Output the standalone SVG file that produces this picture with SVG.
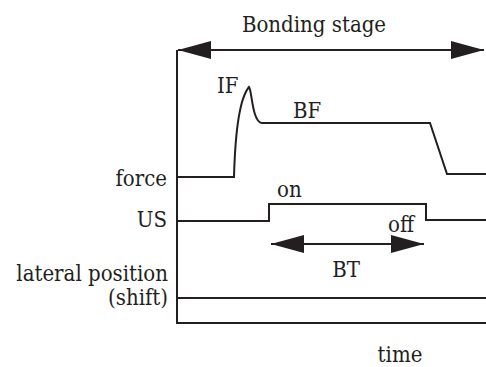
<svg xmlns="http://www.w3.org/2000/svg" width="486" height="367" viewBox="0 0 486 367">
<style>
.t{font-family:"DejaVu Serif Condensed","DejaVu Serif",serif;font-stretch:condensed;font-size:22px;fill:#231f20}
.r{text-anchor:end}
.m{text-anchor:middle}
.ln{fill:none;stroke:#231f20;stroke-width:2;stroke-linejoin:miter}
</style>
<defs>
<marker id="ah" markerUnits="userSpaceOnUse" markerWidth="34" markerHeight="20" viewBox="0 0 34 20" refX="33" refY="10" orient="auto-start-reverse">
<path d="M0,1 L33,10 L0,19 Z" fill="#231f20"/>
</marker>
</defs>
<rect width="486" height="367" fill="#fff"/>
<g id="axes">
<path class="ln" d="M177,50 V323 H486"/>
</g>
<g id="connectors">
<line class="ln" x1="178" y1="50" x2="484" y2="50" marker-start="url(#ah)" marker-end="url(#ah)"/>
<line class="ln" x1="271" y1="244" x2="424" y2="244" marker-start="url(#ah)" marker-end="url(#ah)"/>
</g>
<g id="force-trace">
<path class="ln" d="M177,177 H234 C235,140 238,100 249,87 C252,90 252,122 262,123 H430 L447,174 H486"/>
</g>
<g id="us-trace">
<path class="ln" d="M177,221 H269 V204 H426 V220 H486"/>
</g>
<g id="shift-trace">
<path class="ln" d="M177,298 H486"/>
</g>
<g id="labels">
<text class="t m" x="314" y="32">Bonding stage</text>
<text class="t" x="217" y="93">IF</text>
<text class="t" x="293" y="118">BF</text>
<text class="t r" x="167" y="186">force</text>
<text class="t" x="277" y="197">on</text>
<text class="t r" x="167" y="227">US</text>
<text class="t" x="388" y="232">off</text>
<text class="t m" x="346" y="277">BT</text>
<text class="t r" x="168" y="281">lateral position</text>
<text class="t r" x="168" y="305">(shift)</text>
<text class="t m" x="400" y="362">time</text>
</g>
</svg>
